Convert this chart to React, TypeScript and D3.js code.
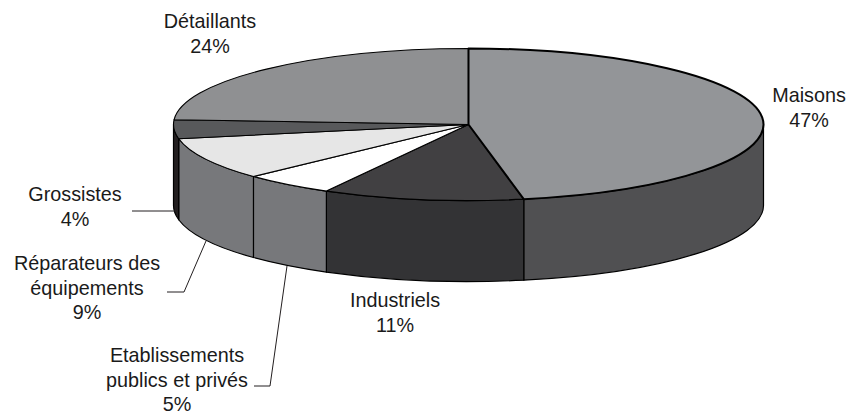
import React from 'react';
import * as d3 from 'd3';

const categories = ['Maisons', 'Industriels', 'Etablissements publics et privés', 'Réparateurs des équipements', 'Grossistes', 'Détaillants'];
const shares = [47, 11, 5, 9, 4, 24];
const topColors = ['#939598', '#414042', '#ffffff', '#e6e6e6', '#58595b', '#8f9092'];
const sideColors = ['#505052', '#333335', '#77787b', '#77787b', '#231f20', '#77787b'];
// label lines as they are broken in the picture
const labelLines = [['Maisons'], ['Industriels'], ['Etablissements', 'publics et privés'], ['Réparateurs des', 'équipements'], ['Grossistes'], ['Détaillants']];
const labelX = [809, 395, 177, 87, 75, 210];
const labelY = [102, 307, 362, 270, 201, 28];
const leaders = ['', '', 'M254 386 L270 386 L287 266', 'M167 292 L184 292 L206 241', 'M132 211 L175 211', ''];

const width = 848;
const height = 414;
const cx = 468.5;
const cy = 124.5;
const rx = 295;
const ry = 76;
const depth = 81;
const lineH = 24.5;

const px = (t: number) => cx + rx * Math.sin(t);
const py = (t: number) => cy - ry * Math.cos(t);

const App: React.FC = () => {
  const pie = d3.pie<number>().value(d => d).sort(null);
  const arcs = pie(shares);

  const topPath = (a0: number, a1: number) =>
    `M${cx} ${cy} L${px(a0)} ${py(a0)} A${rx} ${ry} 0 ${a1 - a0 > Math.PI ? 1 : 0} 1 ${px(a1)} ${py(a1)} Z`;

  // only the front half of the rim can be seen
  const sidePath = (a0: number, a1: number) => {
    const s = Math.max(a0, Math.PI / 2);
    const e = Math.min(a1, (3 * Math.PI) / 2);
    if (e <= s) return null;
    return `M${px(s)} ${py(s)} A${rx} ${ry} 0 0 1 ${px(e)} ${py(e)} L${px(e)} ${py(e) + depth} A${rx} ${ry} 0 0 0 ${px(s)} ${py(s) + depth} Z`;
  };

  return (
    <svg width={width} height={height} viewBox={`0 0 ${width} ${height}`} style={{ position: 'absolute', left: 0, top: 0 }}>
      {arcs.map((d, i) => {
        const p = sidePath(d.startAngle, d.endAngle);
        return p && <path key={i} d={p} fill={sideColors[i]} stroke="#000" strokeWidth={1.2} strokeLinejoin="round" />;
      })}
      {arcs.map((d, i) => i !== 0 && (
        <path key={i} d={topPath(d.startAngle, d.endAngle)} fill={topColors[i]} stroke="#000" strokeWidth={1.1} strokeLinejoin="round" />
      ))}
      <path d={topPath(arcs[0].startAngle, arcs[0].endAngle)} fill={topColors[0]} stroke="#000" strokeWidth={2} strokeLinejoin="round" />
      {leaders.map((l, i) => l && <path key={i} d={l} fill="none" stroke="#231f20" strokeWidth={1} />)}
      {categories.map((c, i) => (
        <text key={c} fontFamily="'Liberation Sans', Arial, sans-serif" fontSize={19.8} fill="#1a1a1a" textAnchor="middle">
          {labelLines[i].map((t, j) => (
            <tspan key={j} x={labelX[i]} y={labelY[i] + j * lineH}>{t}</tspan>
          ))}
          <tspan x={labelX[i]} y={labelY[i] + labelLines[i].length * lineH}>{`${shares[i]}%`}</tspan>
        </text>
      ))}
    </svg>
  );
};

export default App;
